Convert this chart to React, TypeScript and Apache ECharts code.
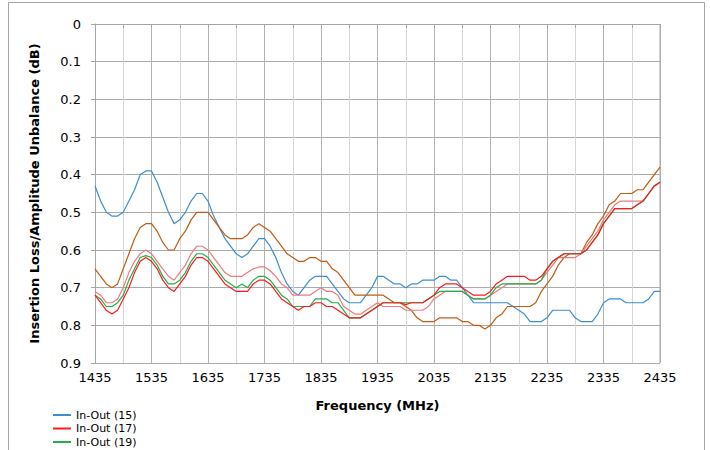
import React, { useEffect, useRef } from "react";
import * as echarts from "echarts";

const freqs: number[] = [];
for (let f = 1435; f <= 2435; f += 10) freqs.push(f);

const xTicks = [1435, 1535, 1635, 1735, 1835, 1935, 2035, 2135, 2235, 2335, 2435];
const yTicks = ["0", "0.1", "0.2", "0.3", "0.4", "0.5", "0.6", "0.7", "0.8", "0.9"];

const blue15 = [
  0.43, 0.47, 0.50, 0.51, 0.51, 0.50, 0.47, 0.44, 0.40, 0.39,
  0.39, 0.42, 0.46, 0.50, 0.53, 0.52, 0.50, 0.47, 0.45, 0.45,
  0.47, 0.51, 0.54, 0.57, 0.59, 0.61, 0.62, 0.61, 0.59, 0.57,
  0.57, 0.59, 0.62, 0.66, 0.69, 0.71, 0.72, 0.70, 0.68, 0.67,
  0.67, 0.67, 0.69, 0.71, 0.73, 0.74, 0.74, 0.74, 0.72, 0.70,
  0.67, 0.67, 0.68, 0.69, 0.69, 0.70, 0.69, 0.69, 0.68, 0.68,
  0.68, 0.67, 0.67, 0.68, 0.68, 0.70, 0.72, 0.74, 0.74, 0.74,
  0.74, 0.74, 0.74, 0.74, 0.75, 0.76, 0.77, 0.79, 0.79, 0.79,
  0.78, 0.76, 0.76, 0.76, 0.76, 0.78, 0.79, 0.79, 0.79, 0.77,
  0.74, 0.73, 0.73, 0.73, 0.74, 0.74, 0.74, 0.74, 0.73, 0.71,
  0.71,
];

const brown = [
  0.65, 0.67, 0.69, 0.70, 0.69, 0.65, 0.61, 0.57, 0.54, 0.53,
  0.53, 0.55, 0.58, 0.60, 0.60, 0.57, 0.55, 0.52, 0.50, 0.50,
  0.50, 0.52, 0.54, 0.56, 0.57, 0.57, 0.57, 0.56, 0.54, 0.53,
  0.54, 0.55, 0.57, 0.59, 0.61, 0.62, 0.63, 0.63, 0.62, 0.62,
  0.63, 0.63, 0.65, 0.66, 0.68, 0.70, 0.72, 0.72, 0.72, 0.72,
  0.72, 0.72, 0.73, 0.74, 0.74, 0.75, 0.76, 0.78, 0.79, 0.79,
  0.79, 0.78, 0.78, 0.78, 0.78, 0.79, 0.79, 0.80, 0.80, 0.81,
  0.80, 0.78, 0.77, 0.75, 0.75, 0.75, 0.75, 0.75, 0.74, 0.71,
  0.69, 0.67, 0.64, 0.62, 0.61, 0.61, 0.61, 0.58, 0.56, 0.53,
  0.51, 0.48, 0.47, 0.45, 0.45, 0.45, 0.44, 0.44, 0.42, 0.40,
  0.38,
];

const pink = [
  0.71, 0.72, 0.74, 0.74, 0.73, 0.70, 0.66, 0.63, 0.61, 0.60,
  0.61, 0.63, 0.65, 0.67, 0.68, 0.66, 0.64, 0.61, 0.59, 0.59,
  0.60, 0.62, 0.64, 0.66, 0.67, 0.67, 0.67, 0.66, 0.65, 0.645,
  0.645, 0.655, 0.67, 0.69, 0.70, 0.72, 0.72, 0.72, 0.72, 0.71,
  0.70, 0.71, 0.71, 0.72, 0.75, 0.76, 0.77, 0.77, 0.76, 0.75,
  0.74, 0.75, 0.75, 0.75, 0.75, 0.76, 0.76, 0.76, 0.76, 0.75,
  0.73, 0.72, 0.71, 0.71, 0.71, 0.71, 0.72, 0.73, 0.73, 0.73,
  0.72, 0.71, 0.70, 0.69, 0.69, 0.69, 0.69, 0.69, 0.69, 0.68,
  0.66, 0.64, 0.62, 0.62, 0.62, 0.62, 0.61, 0.59, 0.57, 0.55,
  0.52, 0.50, 0.48, 0.47, 0.47, 0.47, 0.47, 0.47, 0.45, 0.43,
  0.42,
];

const green19 = [
  0.72, 0.73, 0.75, 0.75, 0.74, 0.72, 0.68, 0.65, 0.62, 0.615,
  0.62, 0.64, 0.67, 0.69, 0.69, 0.68, 0.66, 0.63, 0.61, 0.61,
  0.62, 0.64, 0.66, 0.68, 0.69, 0.70, 0.69, 0.70, 0.68, 0.67,
  0.67, 0.68, 0.70, 0.72, 0.73, 0.75, 0.75, 0.75, 0.75, 0.73,
  0.73, 0.73, 0.74, 0.74, 0.76, 0.78, 0.78, 0.78, 0.77, 0.76,
  0.75, 0.74, 0.74, 0.74, 0.74, 0.74, 0.74, 0.74, 0.74, 0.73,
  0.72, 0.71, 0.71, 0.71, 0.71, 0.71, 0.72, 0.73, 0.73, 0.73,
  0.72, 0.70, 0.69, 0.69, 0.69, 0.69, 0.69, 0.69, 0.69, 0.68,
  0.65, 0.63, 0.62, 0.61, 0.61, 0.61, 0.61, 0.60, 0.58, 0.56,
  0.53, 0.51, 0.49, 0.49, 0.49, 0.49, 0.48, 0.47, 0.45, 0.43,
  0.42,
];

const red17 = [
  0.72, 0.74, 0.76, 0.77, 0.76, 0.73, 0.70, 0.66, 0.63, 0.62,
  0.63, 0.65, 0.68, 0.70, 0.71, 0.69, 0.67, 0.64, 0.62, 0.62,
  0.63, 0.65, 0.67, 0.69, 0.70, 0.71, 0.71, 0.71, 0.69, 0.68,
  0.68, 0.69, 0.71, 0.73, 0.74, 0.75, 0.76, 0.75, 0.75, 0.74,
  0.74, 0.75, 0.75, 0.76, 0.77, 0.78, 0.78, 0.78, 0.77, 0.76,
  0.75, 0.74, 0.74, 0.74, 0.74, 0.745, 0.74, 0.74, 0.74, 0.73,
  0.72, 0.70, 0.69, 0.69, 0.69, 0.70, 0.71, 0.72, 0.72, 0.72,
  0.71, 0.69, 0.68, 0.67, 0.67, 0.67, 0.67, 0.68, 0.68, 0.67,
  0.65, 0.63, 0.62, 0.61, 0.61, 0.61, 0.61, 0.60, 0.58, 0.56,
  0.53, 0.51, 0.49, 0.49, 0.49, 0.49, 0.48, 0.47, 0.45, 0.43,
  0.42,
];

const seriesNames = ["In-Out (15)", "In-Out (17)", "In-Out (19)"];
const FONT = "DejaVu Sans";

const pair = (vals: number[]) => freqs.map((f, i) => [f, vals[i]]);

export default function App() {
  const ref = useRef<HTMLDivElement>(null);
  useEffect(() => {
    if (!ref.current) return;
    const chart = echarts.init(ref.current, undefined, { renderer: "svg" });
    const line = (name: string, color: string, vals: number[], z: number) => ({
      name,
      type: "line",
      data: pair(vals),
      showSymbol: false,
      symbol: "none",
      z,
      lineStyle: { color, width: 1.2 },
      itemStyle: { color },
    });
    chart.setOption({
      animation: false,
      backgroundColor: "#ffffff",
      textStyle: { fontFamily: FONT },
      grid: { left: 95, right: 50, top: 24, bottom: 87, containLabel: false },
      legend: {
        data: seriesNames,
        orient: "vertical",
        left: 53,
        top: 409,
        itemWidth: 18,
        itemHeight: 2,
        itemGap: 1.5,
        icon: "rect",
        padding: 0,
        textStyle: { fontFamily: FONT, fontSize: 11, color: "#000", lineHeight: 12 },
      },
      xAxis: {
        type: "value",
        min: 1435,
        max: 2435,
        interval: 50,
        name: "Frequency (MHz)",
        nameLocation: "middle",
        nameGap: 36,
        nameTextStyle: { fontFamily: FONT, fontSize: 13, fontWeight: "bold", color: "#000" },
        axisLine: { show: true, lineStyle: { color: "#a6a6a6", width: 1 } },
        axisTick: {
          show: true,
          length: 4,
          inside: false,
          lineStyle: { color: "#a6a6a6" },
          interval: (_i: number, v: number) => xTicks.includes(v),
        },
        axisLabel: {
          fontFamily: FONT,
          fontSize: 13,
          color: "#000",
          margin: 8,
          formatter: (v: number) => (xTicks.includes(v) ? String(v) : ""),
        },
        splitLine: { show: true, lineStyle: { color: ["#b4b4b4", "#d6d6d6"], width: 1 } },
      },
      yAxis: {
        type: "value",
        inverse: true,
        min: 0,
        max: 0.9,
        interval: 0.1,
        name: "Insertion Loss/Amplitude Unbalance (dB)",
        nameLocation: "middle",
        nameRotate: 90,
        nameGap: 54,
        nameTextStyle: { fontFamily: FONT, fontSize: 13, fontWeight: "bold", color: "#000" },
        axisLine: { show: true, lineStyle: { color: "#a6a6a6", width: 1 } },
        axisTick: { show: true, length: 4, inside: false, lineStyle: { color: "#a6a6a6" } },
        axisLabel: {
          fontFamily: FONT,
          fontSize: 13,
          color: "#000",
          margin: 14,
          formatter: (v: number) => yTicks[Math.round(v * 10)] ?? "",
        },
        splitLine: { show: true, lineStyle: { color: "#ababab", width: 1 } },
      },
      graphic: [
        {
          type: "rect",
          shape: { x: 8.5, y: 2.5, width: 696, height: 470 },
          style: { fill: "none", stroke: "#a6a6a6", lineWidth: 1 },
          silent: true,
          z: 100,
        },
        {
          type: "line",
          shape: { x1: 660, y1: 24, x2: 660, y2: 363 },
          style: { stroke: "#a6a6a6", lineWidth: 1 },
          silent: true,
          z: 1,
        },
      ],
      series: [
        line("In-Out (15)", "#3b8fd0", blue15, 2),
        line("In-Out (21)", "#c55a11", brown, 3),
        line("In-Out (23)", "#f07a7a", pink, 4),
        line("In-Out (19)", "#1fb04a", green19, 5),
        line("In-Out (17)", "#ff1a1a", red17, 6),
      ],
    });
    return () => chart.dispose();
  }, []);
  return (
    <div
      ref={ref}
      style={{ position: "absolute", left: 0, top: 0, width: 710, height: 450 }}
    />
  );
}
